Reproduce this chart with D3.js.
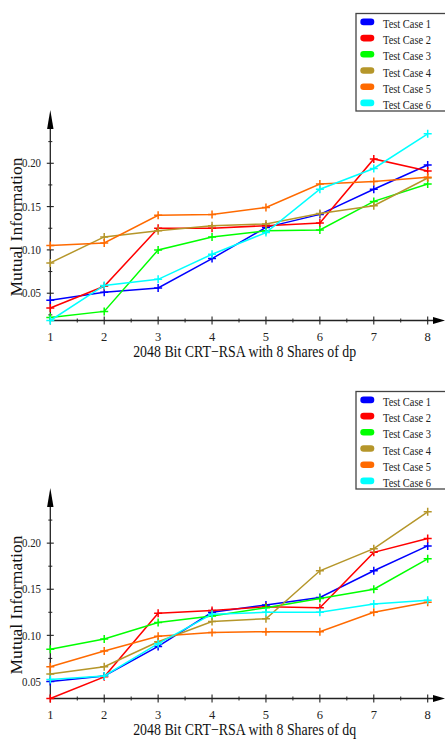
<!DOCTYPE html>
<html lang="en">
<head>
    <meta charset="UTF-8">
    <title>Mutual Information per Share</title>
    <script src="https://cdnjs.cloudflare.com/ajax/libs/d3/7.8.5/d3.min.js"></script>
    <style>
        body {
            margin: 0;
            background-color: white;
        }
        svg text {
            font-family: "Liberation Serif", "Times New Roman", Times, "DejaVu Serif", serif;
        }
    </style>
</head>
<body>
    <div id="chart"></div>

    <script>
        const shares = [1, 2, 3, 4, 5, 6, 7, 8];
        const caseNames = ["Test Case 1", "Test Case 2", "Test Case 3", "Test Case 4", "Test Case 5", "Test Case 6"];
        const caseColors = ["#0000ff", "#ff0000", "#00ff00", "#b5962a", "#ff6a00", "#00ffff"];

        // dp panel
        const dpCase1 = [0.042, 0.051, 0.056, 0.090, 0.126, 0.141, 0.170, 0.198];
        const dpCase2 = [0.033, 0.058, 0.125, 0.125, 0.128, 0.131, 0.205, 0.191];
        const dpCase3 = [0.022, 0.029, 0.100, 0.115, 0.122, 0.123, 0.156, 0.176];
        const dpCase4 = [0.085, 0.115, 0.122, 0.128, 0.130, 0.142, 0.151, 0.183];
        const dpCase5 = [0.105, 0.108, 0.140, 0.141, 0.149, 0.176, 0.179, 0.184];
        const dpCase6 = [0.0185, 0.059, 0.066, 0.095, 0.120, 0.170, 0.194, 0.234];

        // dq panel
        const dqCase1 = [0.050, 0.056, 0.088, 0.125, 0.133, 0.141, 0.170, 0.197];
        const dqCase2 = [0.0315, 0.055, 0.124, 0.127, 0.131, 0.130, 0.190, 0.205];
        const dqCase3 = [0.085, 0.096, 0.114, 0.121, 0.130, 0.140, 0.150, 0.183];
        const dqCase4 = [0.058, 0.066, 0.093, 0.115, 0.118, 0.170, 0.194, 0.234];
        const dqCase5 = [0.066, 0.083, 0.099, 0.103, 0.104, 0.104, 0.125, 0.136];
        const dqCase6 = [0.052, 0.056, 0.091, 0.123, 0.125, 0.125, 0.134, 0.138];

        const yMajorTicks = [0.05, 0.10, 0.15, 0.20];
        const yMinorTicks = [0.025, 0.075, 0.125, 0.175, 0.225];
        const xMinorTicks = [1.5, 2.5, 3.5, 4.5, 5.5, 6.5, 7.5];

        const panels = [
            { title: "2048 Bit CRT\u2212RSA with 8 Shares of dp", series: [dpCase1, dpCase2, dpCase3, dpCase4, dpCase5, dpCase6], yTop: 0.2615, offset: 0 },
            { title: "2048 Bit CRT\u2212RSA with 8 Shares of dq", series: [dqCase1, dqCase2, dqCase3, dqCase4, dqCase5, dqCase6], yTop: 0.2598, offset: 378 }
        ];

        const width = 445;
        const height = 743;
        const plotTop = 110;
        const plotBottom = 320.5;

        const svg = d3.select("#chart")
            .append("svg")
            .attr("width", width)
            .attr("height", height);

        const x = d3.scaleLinear().domain([1, 8]).range([50.3, 427.7]);
        const axisX = x(1);

        panels.forEach(p => {
            const g = svg.append("g").attr("transform", `translate(0,${p.offset})`);
            const yMin = d3.min(p.series, s => d3.min(s));
            const y = d3.scaleLinear().domain([yMin, p.yTop]).range([plotBottom, plotTop]);

            // y axis line + arrow
            g.append("line")
                .attr("x1", axisX).attr("x2", axisX)
                .attr("y1", plotBottom).attr("y2", plotTop + 10)
                .attr("stroke", "#222").attr("stroke-width", 1.3);
            g.append("path")
                .attr("d", `M${axisX},${plotTop} L${axisX - 3.2},${plotTop + 19} L${axisX + 3.2},${plotTop + 19} Z`)
                .attr("fill", "black");

            // x axis line + arrow
            g.append("line")
                .attr("x1", axisX).attr("x2", width - 6)
                .attr("y1", plotBottom).attr("y2", plotBottom)
                .attr("stroke", "#222").attr("stroke-width", 1.3);
            g.append("path")
                .attr("d", `M${width},${plotBottom} L${width - 12},${plotBottom - 3.6} L${width - 12},${plotBottom + 3.6} Z`)
                .attr("fill", "black");

            // y ticks
            g.selectAll(".ymaj").data(yMajorTicks).enter().append("line")
                .attr("x1", axisX - 3.5).attr("x2", axisX + 3.5)
                .attr("y1", d => y(d)).attr("y2", d => y(d))
                .attr("stroke", "#222").attr("stroke-width", 1.1);
            g.selectAll(".ymin").data(yMinorTicks.filter(v => v > yMin)).enter().append("line")
                .attr("x1", axisX - 2).attr("x2", axisX + 2)
                .attr("y1", d => y(d)).attr("y2", d => y(d))
                .attr("stroke", "#222").attr("stroke-width", 1);
            g.selectAll(".ylab").data(yMajorTicks).enter().append("text")
                .attr("x", 41)
                .attr("y", d => y(d) + 4.2)
                .attr("text-anchor", "end")
                .attr("textLength", 19)
                .attr("lengthAdjust", "spacingAndGlyphs")
                .style("font-size", "12.5px")
                .attr("fill", "#222")
                .text(d => d.toFixed(2));

            // x ticks
            g.selectAll(".xmaj").data(shares).enter().append("line")
                .attr("x1", d => x(d)).attr("x2", d => x(d))
                .attr("y1", plotBottom - 4).attr("y2", plotBottom + 4)
                .attr("stroke", "#222").attr("stroke-width", 1.1);
            g.selectAll(".xmin").data(xMinorTicks).enter().append("line")
                .attr("x1", d => x(d)).attr("x2", d => x(d))
                .attr("y1", plotBottom - 2).attr("y2", plotBottom + 2)
                .attr("stroke", "#222").attr("stroke-width", 1);
            g.selectAll(".xlab").data(shares).enter().append("text")
                .attr("x", d => x(d))
                .attr("y", 340.5)
                .attr("text-anchor", "middle")
                .style("font-size", "12.5px")
                .attr("fill", "#222")
                .text(d => d);

            // axis titles
            g.append("text")
                .attr("x", 244.7)
                .attr("y", 356.5)
                .attr("text-anchor", "middle")
                .attr("textLength", 223)
                .attr("lengthAdjust", "spacingAndGlyphs")
                .style("font-size", "16px")
                .attr("fill", "#111")
                .text(p.title);
            g.append("text")
                .attr("transform", "translate(16,227) rotate(-90)")
                .attr("dy", "0.35em")
                .attr("text-anchor", "middle")
                .attr("textLength", 139)
                .attr("lengthAdjust", "spacingAndGlyphs")
                .style("font-size", "16.5px")
                .attr("fill", "#111")
                .text("Mutual Information");

            // series
            const line = d3.line()
                .x((d, i) => x(shares[i]))
                .y(d => y(d));

            p.series.forEach((s, k) => {
                g.append("path")
                    .datum(s)
                    .attr("d", line)
                    .attr("fill", "none")
                    .attr("stroke", caseColors[k])
                    .attr("stroke-width", 1.5);
                g.selectAll(`.mark${k}`).data(s).enter().append("path")
                    .attr("d", (d, i) => {
                        const cx = x(shares[i]), cy = y(d);
                        return `M${cx - 4},${cy}H${cx + 4}M${cx},${cy - 4}V${cy + 4}`;
                    })
                    .attr("stroke", caseColors[k])
                    .attr("stroke-width", 1.5);
            });

            // legend
            const legend = g.append("g").attr("transform", "translate(356,13.5)");
            legend.append("rect")
                .attr("x", 0).attr("y", 0)
                .attr("width", 100).attr("height", 97.5)
                .attr("fill", "white")
                .attr("stroke", "#444")
                .attr("stroke-width", 1.3);
            caseNames.forEach((name, k) => {
                legend.append("rect")
                    .attr("x", 4.3).attr("y", 8.4 + k * 16.2 - 3.3)
                    .attr("width", 14).attr("height", 6.6)
                    .attr("rx", 3.3)
                    .attr("fill", caseColors[k]);
                legend.append("text")
                    .attr("x", 27).attr("y", 14.5 + k * 16.2)
                    .attr("textLength", 48)
                    .attr("lengthAdjust", "spacingAndGlyphs")
                    .style("font-size", "13px")
                    .attr("fill", "#222")
                    .text(name);
            });
        });
    </script>
</body>
</html>
